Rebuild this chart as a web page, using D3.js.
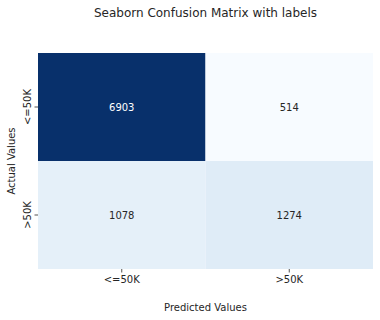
<!DOCTYPE html>
<html><head><meta charset="utf-8">
<script src="https://cdn.jsdelivr.net/npm/d3@7"></script>
<style>body{margin:0;background:#fff}text{font-family:"DejaVu Sans",sans-serif}</style>
</head><body>
<script>
const rowLabels = ["<=50K", ">50K"];
const colLabels = ["<=50K", ">50K"];
const values = [[6903, 514], [1078, 1274]];
const title = "Seaborn Confusion Matrix with labels";
const xTitle = "Predicted Values";
const yTitle = "Actual Values";

const W = 380, H = 320;
const m = {left: 38, right: 7, top: 53, bottom: 51};
const svg = d3.select("body").append("svg").attr("width", W).attr("height", H);
const x = d3.scaleBand().domain(colLabels).range([m.left, W - m.right]);
const y = d3.scaleBand().domain(rowLabels).range([m.top, H - m.bottom]);
const flat = values.flatMap((r, i) => r.map((v, j) => ({r: rowLabels[i], c: colLabels[j], v})));
const ext = d3.extent(flat, d => d.v);
const color = d3.scaleSequential(d3.interpolateBlues).domain(ext);

svg.selectAll("rect.cell").data(flat).join("rect").attr("class", "cell")
  .attr("x", d => x(d.c)).attr("y", d => y(d.r))
  .attr("width", x.bandwidth()).attr("height", y.bandwidth())
  .attr("fill", d => color(d.v));
svg.selectAll("text.val").data(flat).join("text").attr("class", "val")
  .attr("x", d => x(d.c) + x.bandwidth() / 2).attr("y", d => y(d.r) + y.bandwidth() / 2)
  .attr("text-anchor", "middle").attr("dominant-baseline", "central")
  .attr("font-size", 10)
  .attr("fill", d => (d.v - ext[0]) / (ext[1] - ext[0]) > 0.5 ? "#ffffff" : "#262626")
  .text(d => d.v);

const xa = svg.append("g").attr("transform", `translate(0,${H - m.bottom})`)
  .call(d3.axisBottom(x).tickSize(3.5).tickPadding(3.5));
const ya = svg.append("g").attr("transform", `translate(${m.left},0)`)
  .call(d3.axisLeft(y).tickSize(3.5).tickPadding(3.5));
[xa, ya].forEach(a => {
  a.select(".domain").remove();
  a.selectAll("line").attr("stroke", "#262626").attr("stroke-width", 0.8);
  a.selectAll("text").attr("font-size", 10).attr("fill", "#262626").attr("font-family", "DejaVu Sans");
});
ya.selectAll("text").attr("text-anchor", "middle").attr("dy", null)
  .attr("dominant-baseline", "auto")
  .attr("transform", function(){ return `translate(${-7.5},0) rotate(-90)`; })
  .attr("x", 0).attr("y", 0);

svg.append("text").attr("x", (m.left + W - m.right) / 2).attr("y", 17)
  .attr("text-anchor", "middle").attr("font-size", 12).attr("fill", "#262626").text(title);
svg.append("text").attr("x", (m.left + W - m.right) / 2).attr("y", 311)
  .attr("text-anchor", "middle").attr("font-size", 10).attr("fill", "#262626").text(xTitle);
svg.append("text").attr("transform", `translate(15,${(m.top + H - m.bottom) / 2}) rotate(-90)`)
  .attr("text-anchor", "middle").attr("font-size", 10).attr("fill", "#262626").text(yTitle);
</script>
</body></html>
